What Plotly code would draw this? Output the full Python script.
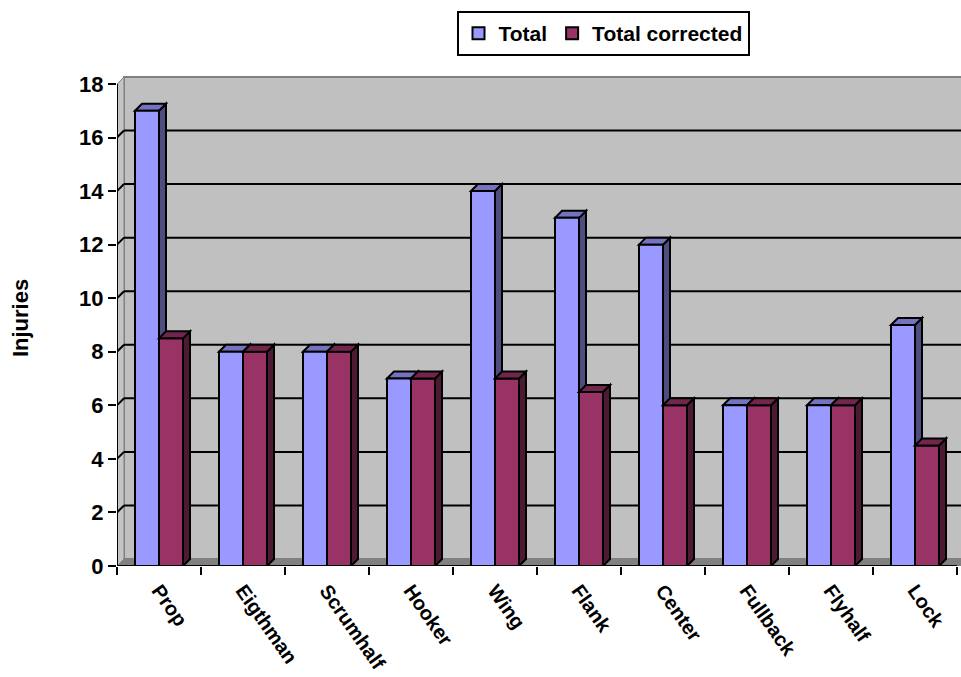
import plotly.graph_objects as go

categories = ["Prop", "Eigthman", "Scrumhalf", "Hooker", "Wing", "Flank",
              "Center", "Fullback", "Flyhalf", "Lock"]
total = [17, 8, 8, 7, 14, 13, 12, 6, 6, 9]
total_corrected = [8.5, 8, 8, 7, 7, 6.5, 6, 6, 6, 4.5]
y_ticks = list(range(0, 19, 2))

BLUE, BLUE_TOP, BLUE_SIDE = "#9999FF", "#7373BF", "#4D4D80"
PURP, PURP_TOP, PURP_SIDE = "#993366", "#73264D", "#4D1A33"

W, H = 961, 677
ML, MR, MT, MB = 117, 0, 70, 111
n = len(categories)
px_x = 84.0                       # pixels per category
plot_h = H - MT - MB
px_y = 26.78                      # pixels per unit
xmax = (W - ML - MR) / px_x
ymax = plot_h / px_y
dx = 7 / px_x
dy = 7 / px_y
bw = 24 / px_x                    # bar width in category units
FAM = "Liberation Sans, Arial, sans-serif"
TICKFONT = dict(family=FAM, size=22, color="black", weight="bold")
XFONT = dict(family=FAM, size=20, color="black", weight="bold")
LEGFONT = dict(family=FAM, size=21, color="black", weight="bold")

xc = [i + 0.5 for i in range(n)]

fig = go.Figure()
fig.add_trace(go.Bar(name="Total", x=xc, y=total, width=bw, offset=-bw,
                     marker=dict(color=BLUE, line=dict(color="black", width=2))))
fig.add_trace(go.Bar(name="Total corrected", x=xc, y=total_corrected, width=bw, offset=0,
                     marker=dict(color=PURP, line=dict(color="black", width=2))))

shapes = []
# back wall
shapes.append(dict(type="rect", xref="x", yref="y", x0=dx, x1=xmax + 1, y0=dy, y1=y_ticks[-1] + dy,
                   fillcolor="#C0C0C0", line=dict(color="#808080", width=2), layer="below"))
# left side wall
shapes.append(dict(type="path", xref="x", yref="y",
                   path=f"M0,0 L{dx},{dy} L{dx},{y_ticks[-1]+dy} L0,{y_ticks[-1]} Z",
                   fillcolor="#C4C4C4", line=dict(color="#808080", width=1), layer="below"))
# floor
shapes.append(dict(type="path", xref="x", yref="y",
                   path=f"M0,0 L{dx},{dy} L{xmax+1},{dy} L{xmax+1},0 Z",
                   fillcolor="#808080", line=dict(width=0), layer="below"))
# gridlines
for v in y_ticks[1:-1]:
    shapes.append(dict(type="line", xref="x", yref="y", x0=0, y0=v, x1=dx, y1=v + dy,
                       line=dict(color="black", width=2), layer="below"))
    shapes.append(dict(type="line", xref="x", yref="y", x0=dx, y0=v + dy, x1=xmax + 1, y1=v + dy,
                       line=dict(color="black", width=2), layer="below"))


def faces(values, off, top_c, side_c, layer):
    out = []
    for i, v in enumerate(values):
        left = xc[i] + off
        right = left + bw
        out.append(dict(type="path", xref="x", yref="y",
                        path=f"M{right},0 L{right},{v} L{right+dx},{v+dy} L{right+dx},{dy} Z",
                        fillcolor=side_c, line=dict(color="black", width=2), layer=layer))
        out.append(dict(type="path", xref="x", yref="y",
                        path=f"M{left},{v} L{left+dx},{v+dy} L{right+dx},{v+dy} L{right},{v} Z",
                        fillcolor=top_c, line=dict(color="black", width=2), layer=layer))
    return out


shapes += faces(total, -bw, BLUE_TOP, BLUE_SIDE, "below")
shapes += faces(total_corrected, 0, PURP_TOP, PURP_SIDE, "above")
# axis lines
shapes.append(dict(type="line", xref="x", yref="y", x0=0, y0=0, x1=n, y1=0,
                   line=dict(color="black", width=2), layer="above"))
shapes.append(dict(type="line", xref="x", yref="y", x0=0, y0=0, x1=0, y1=y_ticks[-1],
                   line=dict(color="black", width=2), layer="above"))

fig.update_layout(
    width=W, height=H,
    margin=dict(l=ML, r=MR, t=MT, b=MB, autoexpand=False),
    plot_bgcolor="white", paper_bgcolor="white",
    barmode="overlay",
    shapes=shapes,
    showlegend=True,
    legend=dict(orientation="h", x=(603 - ML) / (W - ML - MR), xanchor="center",
                y=(H - MB - 11) / plot_h, yanchor="top",
                bordercolor="black", borderwidth=2, font=LEGFONT,
                bgcolor="white", itemwidth=30, traceorder="normal"),
    font=TICKFONT,
)
fig.update_xaxes(range=[0, xmax], showgrid=False, zeroline=False, showline=False,
                 automargin=False,
                 tickmode="array", tickvals=xc, ticktext=categories, tickangle=55,
                 ticks="outside", ticklen=0, tickfont=XFONT, ticklabelstandoff=4,
                 minor=dict(tickmode="array", tickvals=list(range(n + 1)), ticks="outside",
                            ticklen=8, tickwidth=2, tickcolor="black"))
fig.update_yaxes(range=[0, ymax], showgrid=False, zeroline=False, showline=False,
                 automargin=False,
                 tickmode="array", tickvals=y_ticks, ticks="outside", ticklen=8,
                 tickwidth=2, tickcolor="black", tickfont=TICKFONT,
                 title=dict(text="Injuries", font=TICKFONT, standoff=44))

fig.write_html("out.html")
